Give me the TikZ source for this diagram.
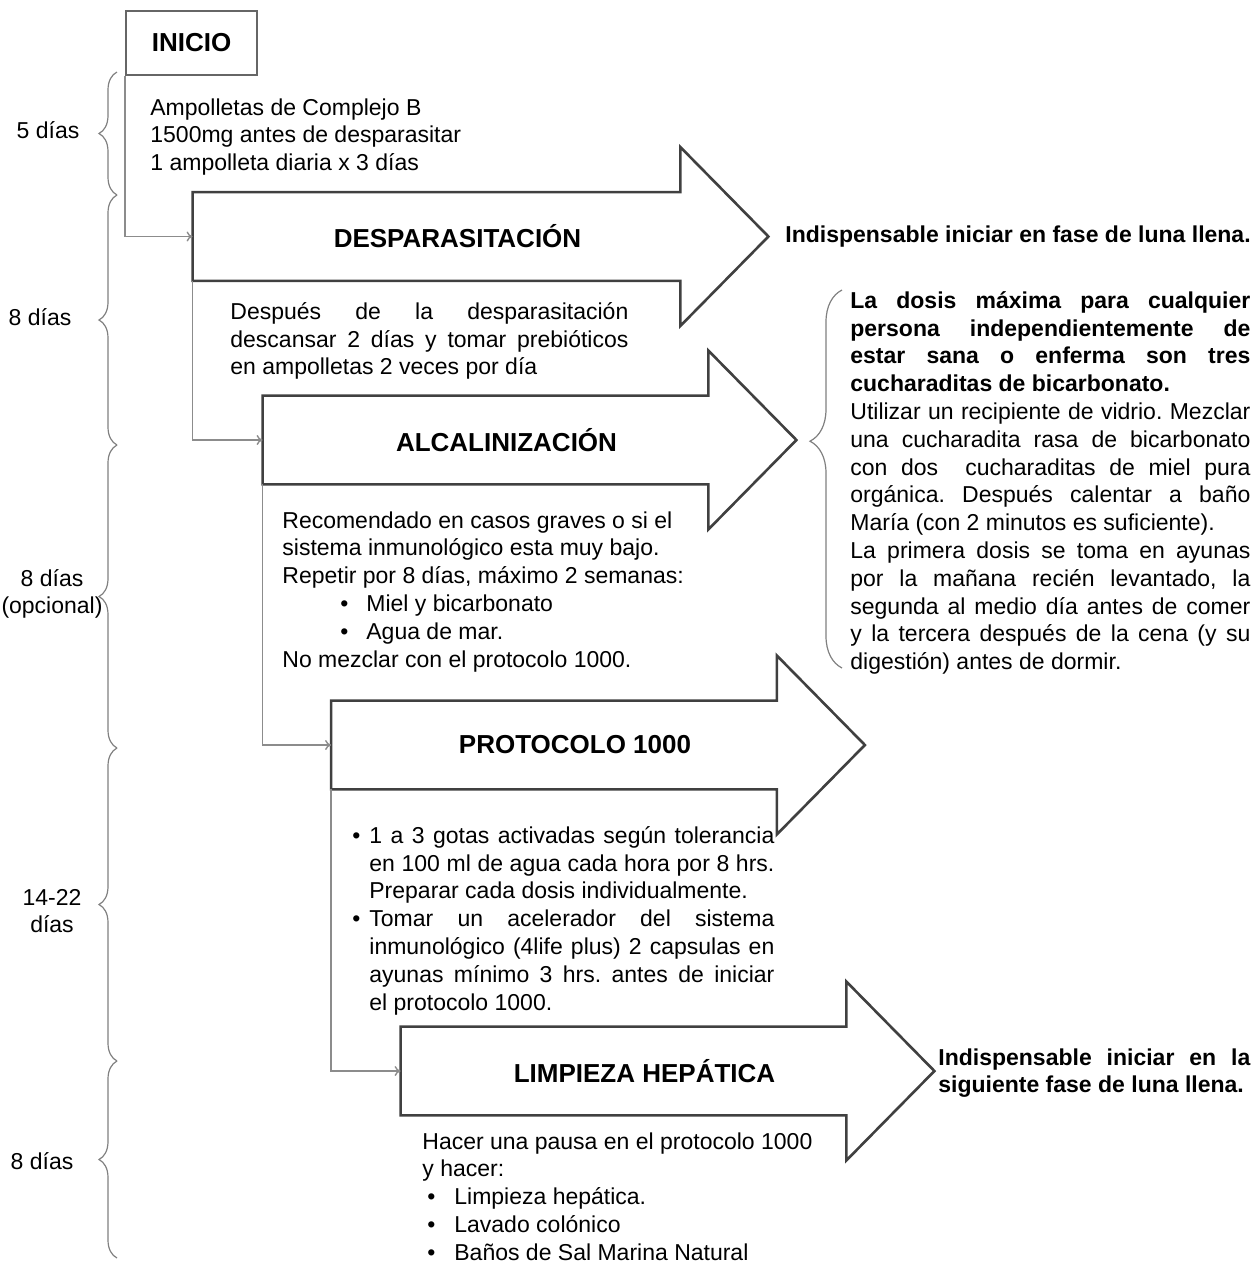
\documentclass[tikz,border=0pt]{standalone}
\usepackage{fontspec}
\setmainfont{Liberation Sans}
\usetikzlibrary{arrows.meta,decorations.pathreplacing}
\hyphenpenalty=10000
\exhyphenpenalty=10000
\frenchspacing

% contorno de flecha grande alrededor de un cuerpo
\newcommand{\flecha}[1]{%
  \draw[contorno] (#1.south west) -- (#1.north west) -- (#1.north east)
    -- ([yshift=22.5pt]#1.north east) -- ([xshift=44pt]#1.east)
    -- ([yshift=-22.5pt]#1.south east) -- (#1.south east) -- cycle;}
\newcommand{\vin}[2]{\hspace*{#1}\makebox[#2][l]{\textbullet}}
\newcommand{\punto}{\leavevmode\llap{\makebox[8.5pt][l]{\textbullet}}}

\begin{document}
\begin{tikzpicture}[x=0.5pt,y=-0.5pt,
  cuerpo/.style={minimum width=222.5pt,minimum height=44pt,inner sep=0},
  titulo/.style={font=\bfseries\fontsize{13}{15}\selectfont},
  contorno/.style={draw=black!75,line width=1.3pt},
  conector/.style={draw=black!45,line width=0.7pt,-{To[length=3pt,width=5pt]}},
  llave/.style={draw=black!50,line width=0.6pt,decorate,decoration={brace,amplitude=9pt}},
  texto/.style={font=\fontsize{11.5}{13.9}\selectfont,inner sep=0,anchor=north west},
  dias/.style={font=\fontsize{11.5}{13.9}\selectfont,align=center,inner sep=0}]
\useasboundingbox (0,0) rectangle (1253,1265);

% etapas
\node[draw=black!60,line width=1pt,minimum width=65.5pt,minimum height=32pt,titulo] (inicio) at (191.5,43) {INICIO};
\node[cuerpo,minimum width=243.5pt] (desp) at (436.5,236.5) {};
\node[cuerpo] (alca) at (485.5,440) {};
\node[cuerpo] (prot) at (554,745) {};
\node[cuerpo] (limp) at (623.5,1071) {};
\flecha{desp}
\flecha{alca}
\flecha{prot}
\flecha{limp}
\node[titulo] (tdesp) at ([xshift=10.5pt]desp.center) {DESPARASITACIÓN};
\node[titulo] (talca) at ([xshift=10.5pt]alca.center) {ALCALINIZACIÓN};
\node[titulo] (tprot) at ([xshift=10.5pt]prot.center) {PROTOCOLO 1000};
\node[titulo] (tlimp) at ([xshift=10.5pt]limp.center) {LIMPIEZA HEPÁTICA};

\draw[conector] (inicio.south west) |- (desp.west);
\draw[conector] (desp.south west) |- (alca.west);
\draw[conector] (alca.south west) |- (prot.west);
\draw[conector] (prot.south west) |- (limp.west);

% textos de cada etapa
\node[texto,align=left] (tinicio) at (150,98) {Ampolletas de Complejo B\\1500mg antes de desparasitar\\1 ampolleta diaria x 3 días};
\node[texto,align=justify,text width=199pt] (tdesc) at (230,302)
  {Después de la desparasitación\linebreak descansar 2 días y tomar prebióticos\linebreak en ampolletas 2 veces por día};
\node[texto,align=left] (trec) at (282,511) {Recomendado en casos graves o si el\\sistema inmunológico esta muy bajo.\\Repetir por 8 días, máximo 2 semanas:\\
  \vin{29pt}{13pt}Miel y bicarbonato\\\vin{29pt}{13pt}Agua de mar.\\No mezclar con el protocolo 1000.};
\node[texto] (tgotas) at (352,826)
  {\parbox[t]{211pt}{\leftskip=8.5pt\relax
   \punto 1 a 3 gotas activadas según tolerancia\linebreak en 100 ml de agua cada hora por 8 hrs.\linebreak Preparar cada dosis individualmente.\par
   \punto Tomar un acelerador del sistema\linebreak inmunológico (4life plus) 2 capsulas en\linebreak ayunas mínimo 3 hrs. antes de iniciar\linebreak el protocolo 1000.}};
\node[texto,align=left] (tpausa) at (422,1132) {Hacer una pausa en el protocolo 1000\\y hacer:\\
  \vin{2.5pt}{13.5pt}Limpieza hepática.\\\vin{2.5pt}{13.5pt}Lavado colónico\\\vin{2.5pt}{13.5pt}Baños de Sal Marina Natural};

% notas de la derecha
\node[texto,anchor=west,font=\bfseries\fontsize{11.5}{13.9}\selectfont] (tluna1) at (785,237) {Indispensable iniciar en fase de luna llena.};
\node[texto,align=justify,text width=200pt] (tdosis) at (850,291)
  {\textbf{La dosis máxima para cualquier\linebreak persona independientemente de\linebreak estar sana o enferma son tres\linebreak cucharaditas de bicarbonato.}\par
   Utilizar un recipiente de vidrio. Mezclar\linebreak una cucharadita rasa de bicarbonato\linebreak con dos\ \ cucharaditas de miel pura\linebreak orgánica. Después calentar a baño\linebreak María (con 2 minutos es suficiente).\par
   La primera dosis se toma en ayunas\linebreak por la mañana recién levantado, la\linebreak segunda al medio día antes de comer\linebreak y la tercera después de la cena (y su\linebreak digestión) antes de dormir.};
\node[texto,align=justify,text width=156pt,font=\bfseries\fontsize{11.5}{13.9}\selectfont] (tluna2) at (938,1048)
  {Indispensable iniciar en la\linebreak siguiente fase de luna llena.};

% llaves de duracion
\coordinate (b0) at (117,72);
\coordinate (b1) at (117,195);
\coordinate (b2) at (117,445);
\coordinate (b3) at (117,748);
\coordinate (b4) at (117,1061);
\coordinate (b5) at (117,1258);
\draw[llave] (b1) -- (b0);
\draw[llave] (b2) -- (b1);
\draw[llave] (b3) -- (b2);
\draw[llave] (b4) -- (b3);
\draw[llave] (b5) -- (b4);
\node[dias] (d1) at (48,130) {5 días};
\node[dias] (d2) at (40,317) {8 días};
\node[dias] (d3) at (52,594) {8 días\\(opcional)};
\node[dias] (d4) at (52,911) {14-22\\días};
\node[dias] (d5) at (42,1161) {8 días};

\coordinate (r0) at (842,290);
\coordinate (r1) at (842,668);
\draw[llave,decoration={brace,amplitude=16pt,aspect=0.6}] (r1) -- (r0);
\end{tikzpicture}
\end{document}
